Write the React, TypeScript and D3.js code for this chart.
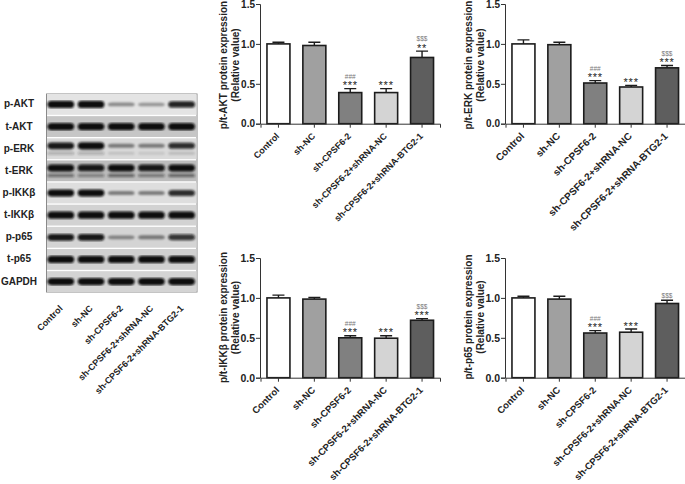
import * as React from 'react';
import * as d3 from 'd3';

const groups = ['Control', 'sh-NC', 'sh-CPSF6-2', 'sh-CPSF6-2+shRNA-NC', 'sh-CPSF6-2+shRNA-BTG2-1'];
const barColors = ['#ffffff', '#a0a0a0', '#808080', '#d4d4d4', '#5e5e5e'];
const yTicks = [0, 0.5, 1, 1.5];

const aktMeans = [1.0, 0.98, 0.39, 0.39, 0.83];
const aktErrs = [0.02, 0.04, 0.05, 0.05, 0.08];
const aktStars = ['', '', '***', '***', '**'];
const aktMarks = ['', '', '###', '', '$$$'];

const erkMeans = [1.0, 0.99, 0.51, 0.46, 0.7];
const erkErrs = [0.05, 0.03, 0.03, 0.02, 0.03];
const erkStars = ['', '', '***', '***', '***'];
const erkMarks = ['', '', '###', '', '$$$'];

const ikkMeans = [1.0, 0.985, 0.5, 0.495, 0.72];
const ikkErrs = [0.035, 0.02, 0.025, 0.03, 0.02];
const ikkStars = ['', '', '***', '***', '***'];
const ikkMarks = ['', '', '###', '', '$$$'];

const p65Means = [1.0, 0.985, 0.56, 0.57, 0.93];
const p65Errs = [0.02, 0.035, 0.03, 0.04, 0.04];
const p65Stars = ['', '', '***', '***', ''];
const p65Marks = ['', '', '###', '', '$$$'];

const blotLabels = ['p-AKT', 't-AKT', 'p-ERK', 't-ERK', 'p-IKKβ', 't-IKKβ', 'p-p65', 't-p65', 'GAPDH'];
const blotBack = ['#e4e4e4', '#c6c6c6', '#dadada', '#bcbcbc', '#dedede', '#d2d2d2', '#d4d4d4', '#d0d0d0', '#d4d4d4'];
// band strength per lane, 0..1
const blotMain = [
  [1, 1, 0.35, 0.3, 0.85],
  [1, 1, 1, 1, 1],
  [0.9, 1, 0.4, 0.4, 0.8],
  [0.95, 0.9, 0.95, 0.9, 0.95],
  [0.95, 0.95, 0.4, 0.4, 0.8],
  [1, 1, 1, 1, 1],
  [0.9, 0.9, 0.35, 0.4, 0.75],
  [1, 1, 1, 1, 1],
  [1, 1, 1, 1, 1],
];
// lower, fainter band (ERK rows only)
const blotLower = [
  [0, 0, 0, 0, 0],
  [0, 0, 0, 0, 0],
  [0.25, 0.25, 0.12, 0.1, 0.15],
  [0.5, 0.4, 0.55, 0.45, 0.55],
  [0, 0, 0, 0, 0],
  [0, 0, 0, 0, 0],
  [0, 0, 0, 0, 0],
  [0, 0, 0, 0, 0],
  [0, 0, 0, 0, 0],
];

const FONT = '"Liberation Sans", Arial, sans-serif';
const INK = '#222222';

function drawLabels(axisG: any, size: number) {
  axisG.selectAll('.tick text')
    .attr('transform', 'rotate(-45)')
    .attr('text-anchor', 'end')
    .attr('x', -8.2)
    .attr('y', 10.2)
    .attr('dy', 0)
    .style('font-size', size + 'px')
    .style('font-family', FONT)
    .style('font-weight', 'bold')
    .attr('fill', INK);
}

function drawPanel(svg: any, o: any) {
  const y = d3.scaleLinear().domain([0, 1.5]).range([o.bottom, o.top]);
  const x = d3.scaleBand().domain(groups).range([o.left + 0.5, o.left + 180]).paddingInner(0.36).paddingOuter(0.18);
  const g = svg.append('g');

  const bars = g.selectAll('.bar').data(groups).enter().append('g');
  const cx = (d: string) => (x(d) as number) + x.bandwidth() / 2;
  bars.append('path')
    .attr('d', (d: string, i: number) => {
      const yt = y(o.means[i] + o.errs[i]);
      return `M${cx(d)},${y(o.means[i])}V${yt}M${cx(d) - 6},${yt}H${cx(d) + 6}`;
    })
    .attr('fill', 'none')
    .attr('stroke', '#1c1c1c')
    .attr('stroke-width', 1.4);
  bars.append('rect')
    .attr('x', (d: string) => x(d))
    .attr('y', (d: string, i: number) => y(o.means[i]))
    .attr('width', x.bandwidth())
    .attr('height', (d: string, i: number) => o.bottom - y(o.means[i]))
    .attr('fill', (d: string, i: number) => barColors[i])
    .attr('stroke', '#1c1c1c')
    .attr('stroke-width', 1.6);

  g.selectAll('.stars').data(groups).enter().append('text')
    .attr('x', cx)
    .attr('y', (d: string, i: number) => y(o.means[i] + o.errs[i]) + 0.5)
    .attr('text-anchor', 'middle')
    .style('font-family', FONT)
    .style('font-size', '11px')
    .attr('fill', INK)
    .attr('letter-spacing', '0.8')
    .text((d: string, i: number) => o.stars[i]);
  g.selectAll('.marks').data(groups).enter().append('text')
    .attr('x', cx)
    .attr('y', (d: string, i: number) => y(o.means[i] + o.errs[i]) - (o.stars[i] ? 9.7 : 2.7))
    .attr('text-anchor', 'middle')
    .style('font-family', FONT)
    .style('font-size', '6.5px')
    .attr('fill', '#777777')
    .text((d: string, i: number) => o.marks[i]);

  const yAxis = g.append('g')
    .attr('transform', `translate(${o.left},0)`)
    .call(d3.axisLeft(y).tickValues(yTicks).tickFormat(d3.format('.1f')).tickSize(4).tickPadding(1));
  yAxis.selectAll('line,path').attr('stroke', '#333333').attr('stroke-width', 1);
  yAxis.selectAll('.tick text')
    .style('font-size', o.tickSize + 'px')
    .style('font-family', FONT)
    .style('font-weight', 'bold')
    .attr('fill', INK);

  const xAxis = g.append('g')
    .attr('transform', `translate(0,${o.bottom})`)
    .call(d3.axisBottom(x).tickSize(4));
  xAxis.selectAll('line,path').attr('stroke', '#333333').attr('stroke-width', 1);
  drawLabels(xAxis, o.labelSize);

  const title = g.append('text')
    .attr('transform', `translate(${o.left - 33},${o.titleY}) rotate(-90)`)
    .attr('text-anchor', 'middle')
    .style('font-family', FONT)
    .style('font-size', '10px')
    .style('font-weight', 'bold')
    .attr('fill', INK);
  title.append('tspan').attr('x', 0).attr('dy', 0).text(o.title);
  title.append('tspan').attr('x', 0).attr('dy', 12).text('(Relative value)');
}

function drawBlot(svg: any) {
  const defs = svg.append('defs');
  defs.append('filter').attr('id', 'bandBlur').append('feGaussianBlur').attr('stdDeviation', 1);

  const left = 46.5, right = 197, top = 94, bottom = 292;
  const rowY = d3.scaleBand().domain(blotLabels).range([top, bottom]).paddingInner(0.06);
  const laneX = d3.scaleBand().domain(groups).range([left + 1, right - 0]).paddingInner(0.05);
  const g = svg.append('g');

  g.append('rect').attr('x', left).attr('y', top).attr('width', right - left).attr('height', bottom - top)
    .attr('fill', '#ffffff').attr('stroke', '#8a8a8a').attr('stroke-width', 1);

  blotLabels.forEach((name, r) => {
    const y0 = rowY(name) as number;
    const h = rowY.bandwidth();
    g.append('rect').attr('x', left + 0.5).attr('y', y0).attr('width', right - left - 1).attr('height', h)
      .attr('fill', blotBack[r]);
    const two = blotLower[r].some(v => v > 0);
    const mid = y0 + h * (two ? 0.36 : 0.5);
    const bands = g.append('g').attr('filter', 'url(#bandBlur)');
    bands.selectAll('.main').data(groups).enter().append('rect')
      .attr('x', (d: string) => laneX(d))
      .attr('width', laneX.bandwidth() - 2)
      .attr('y', (d: string, i: number) => mid - (1 + 2.6 * blotMain[r][i]))
      .attr('height', (d: string, i: number) => 2 + 5.2 * blotMain[r][i])
      .attr('rx', 4)
      .attr('fill', '#0c0c0c')
      .attr('fill-opacity', (d: string, i: number) => Math.min(1, blotMain[r][i] + 0.05));
    if (two) {
      bands.selectAll('.low').data(groups).enter().append('rect')
        .attr('x', (d: string) => laneX(d))
        .attr('width', laneX.bandwidth() - 2)
        .attr('y', mid + 6)
        .attr('height', 3)
        .attr('rx', 1.5)
        .attr('fill', '#1a1a1a')
        .attr('fill-opacity', (d: string, i: number) => blotLower[r][i]);
    }
    g.append('text')
      .attr('x', 19)
      .attr('y', y0 + h / 2 + 3)
      .attr('text-anchor', 'middle')
      .style('font-family', FONT)
      .style('font-size', '10px')
      .style('font-weight', 'bold')
      .attr('fill', INK)
      .text(name);
  });

  // lane labels, no axis line under the blot
  const labels = g.append('g')
    .attr('transform', 'translate(0,296)')
    .call(d3.axisBottom(laneX).tickSize(0));
  labels.select('.domain').remove();
  drawLabels(labels, 9);
}

export default function App() {
  const ref = React.useRef<SVGSVGElement>(null);

  React.useEffect(() => {
    const svg = d3.select(ref.current);
    svg.selectAll('*').remove();
    drawBlot(svg);
    drawPanel(svg, { left: 260, top: 4, bottom: 123.7, titleY: 65, title: 'p/t-AKT protein expression', tickSize: 10, labelSize: 9, means: aktMeans, errs: aktErrs, stars: aktStars, marks: aktMarks });
    drawPanel(svg, { left: 505, top: 4, bottom: 123.7, titleY: 65, title: 'p/t-ERK protein expression', tickSize: 10, labelSize: 10, means: erkMeans, errs: erkErrs, stars: erkStars, marks: erkMarks });
    drawPanel(svg, { left: 260, top: 258, bottom: 377.7, titleY: 317.5, title: 'p/t-IKKβ protein expression', tickSize: 10.5, labelSize: 9.5, means: ikkMeans, errs: ikkErrs, stars: ikkStars, marks: ikkMarks });
    drawPanel(svg, { left: 505, top: 258, bottom: 377.7, titleY: 317, title: 'p/t-p65 protein expression', tickSize: 10.5, labelSize: 9.5, means: p65Means, errs: p65Errs, stars: p65Stars, marks: p65Marks });
  }, []);

  return <svg ref={ref} width={685} height={484} style={{ position: 'absolute', left: 0, top: 0, background: '#fff' }} />;
}
